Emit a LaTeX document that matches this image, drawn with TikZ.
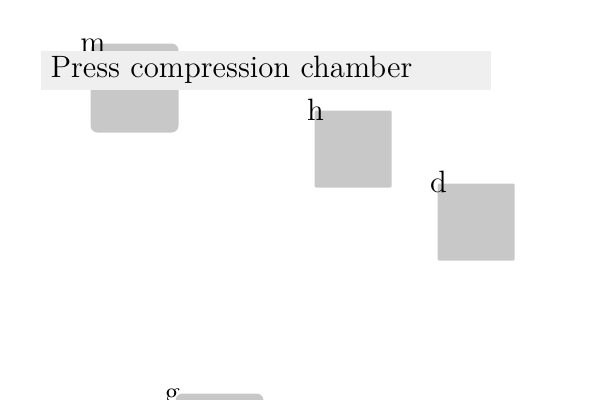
\documentclass[tikz,border=0pt]{standalone}
\usetikzlibrary{positioning}
\definecolor{boxgray}{RGB}{200,200,200}
\definecolor{bannergray}{RGB}{239,239,239}
\tikzset{
  unit/.style={fill=boxgray, draw=none, inner sep=0pt, anchor=north west},
  big/.style={minimum width=35.2pt, minimum height=35.6pt, rounded corners=2.8pt},
  small/.style={minimum width=30.8pt, minimum height=30.8pt, rounded corners=0.5pt},
  tag/.style={anchor=base, inner sep=0pt, font=\fontsize{12.35}{15}\selectfont},
  banner/.style={fill=bannergray, anchor=north west, text width=172pt, align=left,
    inner xsep=4pt, inner ysep=0pt, minimum height=15.6pt,
    font=\fontsize{12.35}{15}\selectfont}
}
\begin{document}
\begin{tikzpicture}[x=0.4pt,y=-0.4pt]
    \useasboundingbox (0,0) rectangle (600,400);
    \clip (0,0) rectangle (600,400);
    % chambers
    \node[unit,big] (m) at (90,43) {};
    \node[unit,small] (h) at (314,110) {};
    \node[unit,small] (d) at (437,183) {};
    \node[unit,big] (g) at (175,393) {};
    % letters
    \node[tag] (mtag) at ([shift={(3,9)}]m.north west) {m};
    \node[tag] (htag) at ([shift={(1.5,10)}]h.north west) {h};
    \node[tag] (dtag) at ([shift={(1.5,9)}]d.north west) {d};
    \node[tag] (gtag) at ([shift={(-2.5,9)}]g.north west) {g};
    % title bar
    \node[banner] (title) at (40,50) {Press compression chamber};
\end{tikzpicture}
\end{document}
